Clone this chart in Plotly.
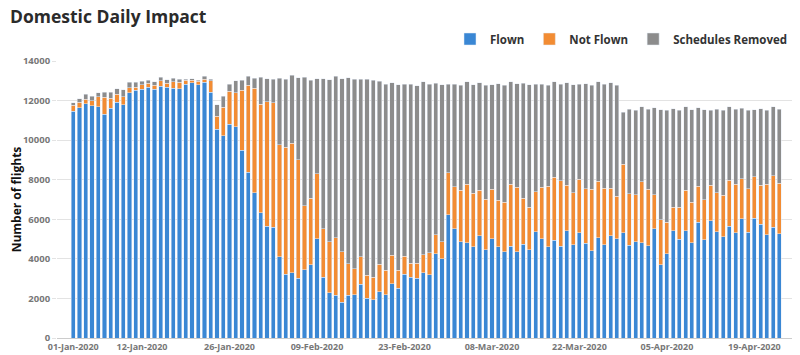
import pandas as pd
import plotly.graph_objects as go

dates = pd.date_range("2020-01-01", "2020-04-23", freq="D")

flown = [11460, 11630, 11830, 11730, 11680, 11320, 11610, 11910, 11780, 12400,
         12530, 12570, 12680, 12580, 12730, 12670, 12630, 12600, 12820, 12890,
         12800, 12920, 12420, 10550, 10210, 10800, 10670, 9490, 8370, 7340,
         6320, 5650, 5590, 4100, 3210, 3290, 3010, 3440, 3700, 5020,
         3070, 2290, 2150, 1810, 2150, 2180, 2710, 2020, 1930, 2340,
         2180, 2740, 2520, 3230, 3060, 3010, 3310, 3190, 4270, 4000,
         6220, 5510, 4860, 4820, 4620, 5160, 4450, 5020, 4620, 4350,
         4650, 4350, 4750, 4450, 5380, 5020, 4620, 4940, 4640, 5430,
         4720, 5330, 4790, 4420, 5070, 4720, 5160, 5020, 5330, 4700,
         4870, 4820, 4670, 5510, 3700, 4270, 5410, 4990, 5430, 4820,
         5850, 4960, 5930, 5360, 5120, 5660, 5330, 6030, 5340, 6050,
         5750, 5210, 5610, 5260]

not_flown = [300, 285, 235, 270, 520, 860, 500, 400, 420, 250,
             150, 220, 200, 185, 270, 200, 320, 335, 200, 135,
             170, 170, 570, 655, 1460, 1665, 1715, 3025, 4400, 5290,
             5490, 6280, 6300, 5680, 6430, 6550, 6000, 3240, 3360, 3290,
             2440, 2570, 2920, 2550, 1610, 1310, 1390, 1160, 1130, 1390,
             1240, 1450, 910, 890, 720, 770, 890, 1110, 940, 870,
             2120, 2130, 2620, 2960, 2700, 2320, 2570, 2500, 2340, 2520,
             3110, 3280, 2320, 2170, 2000, 2590, 3060, 3190, 3310, 2280,
             2620, 2690, 2760, 3090, 2860, 2860, 2420, 2150, 3460, 2600,
             2370, 3070, 2860, 1730, 2280, 1580, 1210, 1630, 2050, 2030,
             1830, 2020, 1780, 1980, 2100, 2320, 2440, 2030, 2200, 2100,
             1980, 2550, 2590, 2550]

removed = [130, 185, 250, 220, 200, 235, 320, 300, 335, 285,
           250, 185, 135, 185, 170, 185, 185, 135, 50, 85,
           65, 150, 85, 590, 555, 370, 605, 505, 470, 490,
           1380, 1175, 1195, 3360, 3445, 3430, 4150, 6500, 5960, 4790,
           7590, 8180, 8150, 8740, 9390, 9580, 8970, 9890, 9960, 9240,
           9410, 8720, 9370, 8700, 9040, 8970, 8740, 8520, 7660, 7930,
           4480, 5190, 5290, 5170, 5490, 5410, 5760, 5290, 5900, 5900,
           5190, 5210, 5810, 6170, 5440, 5220, 5090, 4820, 4870, 5180,
           5460, 4800, 5290, 5260, 5020, 5240, 5310, 5610, 2620, 4270,
           4270, 3800, 4030, 4390, 5560, 5660, 4960, 4890, 4200, 4690,
           3950, 4550, 3800, 4230, 4280, 3700, 3800, 3560, 3980, 3380,
           3860, 3760, 3480, 3750]

tick_dates = ["2020-01-01", "2020-01-12", "2020-01-26", "2020-02-09", "2020-02-23",
              "2020-03-08", "2020-03-22", "2020-04-05", "2020-04-19"]
tick_labels = ["01-Jan-2020", "12-Jan-2020", "26-Jan-2020", "09-Feb-2020", "23-Feb-2020",
               "08-Mar-2020", "22-Mar-2020", "05-Apr-2020", "19-Apr-2020"]
y_ticks = [0, 2000, 4000, 6000, 8000, 10000, 12000, 14000]
y_labels = ["0", "2000", "4000", "6000", "8000", "10000", "12000", "14000"]

FONT = "Open Sans"
# The page body adds an 8px offset, so the figure is 8px smaller on each axis
W, H = 792, 347
fig = go.Figure()
fig.add_trace(go.Bar(x=dates, y=flown, name="Flown", marker_color="#3a87d4"))
fig.add_trace(go.Bar(x=dates, y=not_flown, name="Not Flown", marker_color="#f28c33"))
fig.add_trace(go.Bar(x=dates, y=removed, name="Schedules Removed", marker_color="#8c8c8c"))

fig.update_layout(
    barmode="stack",
    bargap=0.35,
    width=W, height=H,
    margin=dict(l=49, r=0, t=53, b=17, autoexpand=False),
    paper_bgcolor="white", plot_bgcolor="white",
    font=dict(family=FONT, color="#333333"),
    title=dict(text="<b>Domestic Daily Impact</b>", x=2 / W, xanchor="left",
               y=1 - 9 / H, yanchor="middle",
               font=dict(family=FONT, size=17.5, color="#2b2b2b")),
    legend=dict(orientation="h", x=(442 - 49) / 743, xanchor="left",
                y=1 + 22 / 277, yanchor="middle",
                font=dict(family=FONT, size=11.5, color="#333333", weight="bold"),
                traceorder="normal", itemwidth=30, bgcolor="rgba(0,0,0,0)"),
    showlegend=True,
)
fig.update_xaxes(
    type="date", automargin=False,
    range=["2019-12-29 09:30", "2020-04-26 07:00"],
    tickmode="array", tickvals=tick_dates, ticktext=tick_labels,
    tickfont=dict(family=FONT, size=9, color="#777777", weight="bold"),
    showgrid=False, showline=True, linecolor="#cccccc", linewidth=1,
    ticks="", ticklen=0,
)
fig.update_yaxes(
    range=[0, 14000], automargin=False,
    tickmode="array", tickvals=y_ticks, ticktext=y_labels,
    tickfont=dict(family=FONT, size=9.5, color="#777777", weight="bold"),
    showgrid=True, gridcolor="#e3e3e3", gridwidth=1,
    zeroline=False, showline=False,
    ticks="outside", ticklen=4, tickcolor="#e3e3e3",
    title=dict(text="Number of flights", font=dict(family=FONT, size=12, color="#111111", weight="bold"),
               standoff=8),
)

fig.write_html("out.html")
